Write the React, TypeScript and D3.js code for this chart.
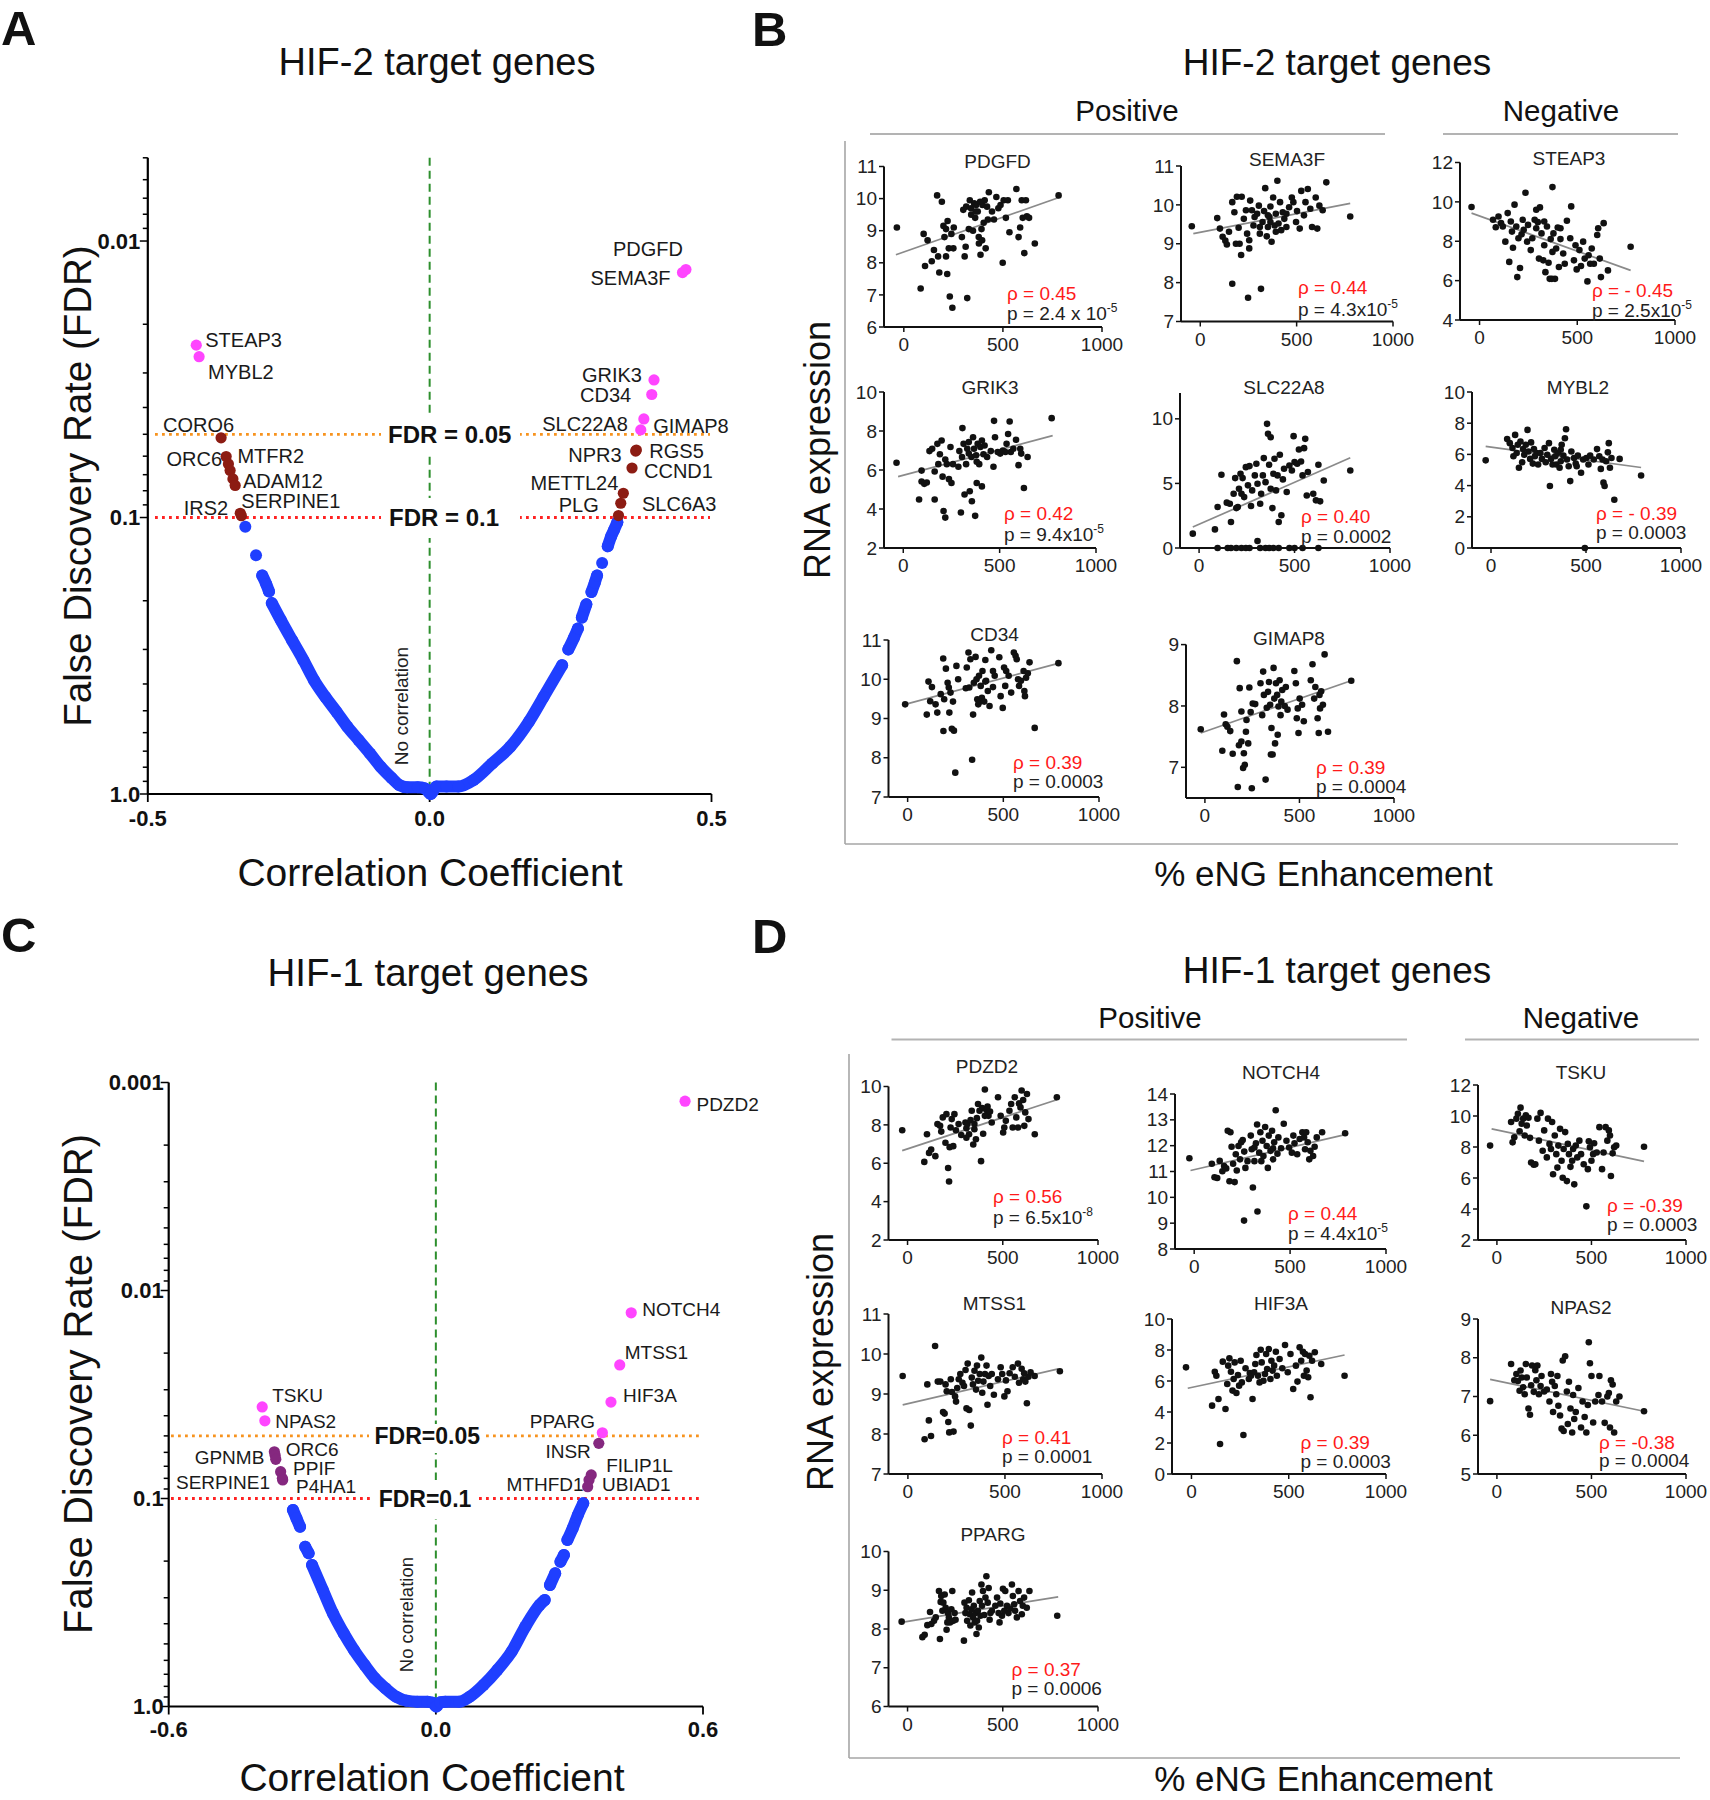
import React from "react";
import * as d3 from "d3";

const FONT = "'Liberation Sans', Arial, Helvetica, sans-serif";
const BLUE = "#1f3fff";
const PINK = "#ff45ff";
const DARKRED = "#8c1c13";
const PURPLE = "#85287f";

// ================= Panel A data : HIF-2 volcano =================
const A_BLUE_SEGMENTS: [number, number][][] = [
  [[-0.327, 0.108]],
  [[-0.308, 0.137]],
  [[-0.297, 0.162], [-0.29, 0.174], [-0.285, 0.185]],
  [[-0.28, 0.204], [-0.264, 0.235], [-0.244, 0.278], [-0.224, 0.328], [-0.205, 0.388], [-0.185, 0.446], [-0.165, 0.505], [-0.146, 0.571], [-0.126, 0.638], [-0.106, 0.713], [-0.087, 0.797], [-0.067, 0.877], [-0.054, 0.928], [-0.04, 0.946], [-0.021, 0.946], [-0.008, 0.955], [0.002, 1.0], [0.012, 0.94], [0.03, 0.94], [0.051, 0.94], [0.078, 0.89], [0.111, 0.775], [0.143, 0.675], [0.176, 0.548], [0.202, 0.446], [0.235, 0.342]],
  [[0.246, 0.3], [0.256, 0.272], [0.263, 0.252]],
  [[0.27, 0.23], [0.278, 0.206]],
  [[0.287, 0.186], [0.293, 0.172], [0.297, 0.162]],
  [[0.306, 0.146]],
  [[0.316, 0.127], [0.322, 0.117], [0.327, 0.111], [0.333, 0.104]],
];
const A_PINK = [
  { g: "STEAP3", r: -0.414, fdr: 0.0238 },
  { g: "MYBL2", r: -0.409, fdr: 0.0262 },
  { g: "PDGFD", r: 0.4546, fdr: 0.01268 },
  { g: "SEMA3F", r: 0.4486, fdr: 0.013 },
  { g: "GRIK3", r: 0.398, fdr: 0.0318 },
  { g: "CD34", r: 0.394, fdr: 0.0359 },
  { g: "SLC22A8", r: 0.38, fdr: 0.044 },
  { g: "GIMAP8", r: 0.3745, fdr: 0.0482 },
];
const A_DARK = [
  { g: "CORO6", r: -0.37, fdr: 0.0515 },
  { g: "ORC6", r: -0.361, fdr: 0.0602 },
  { g: "MTFR2", r: -0.357, fdr: 0.064 },
  { g: "", r: -0.354, fdr: 0.0676 },
  { g: "ADAM12", r: -0.349, fdr: 0.0725 },
  { g: "", r: -0.345, fdr: 0.0766 },
  { g: "IRS2", r: -0.336, fdr: 0.0965 },
  { g: "SERPINE1", r: -0.334, fdr: 0.0985 },
  { g: "NPR3", r: 0.3655, fdr: 0.0575 },
  { g: "RGS5", r: 0.3667, fdr: 0.057 },
  { g: "CCND1", r: 0.359, fdr: 0.0662 },
  { g: "METTL24", r: 0.3436, fdr: 0.0817 },
  { g: "PLG", r: 0.339, fdr: 0.0888 },
  { g: "SLC6A3", r: 0.335, fdr: 0.0984 },
];
// label placement (pixel offsets from the point)
const A_LABELS = [
  { g: "STEAP3", dx: 9, dy: -5, a: "start" },
  { g: "MYBL2", dx: 9, dy: 15, a: "start" },
  { g: "CORO6", dx: 13, dy: -13, a: "end" },
  { g: "ORC6", dx: -4, dy: 2, a: "end" },
  { g: "MTFR2", dx: 9, dy: -8, a: "start" },
  { g: "ADAM12", dx: 10, dy: 2, a: "start" },
  { g: "SERPINE1", dx: 0, dy: -15, a: "start" },
  { g: "IRS2", dx: -12, dy: -5, a: "end" },
  { g: "NPR3", dx: -14, dy: 3.5, a: "end" },
  { g: "RGS5", dx: 13, dy: 0.5, a: "start" },
  { g: "CCND1", dx: 12, dy: 3, a: "start" },
  { g: "METTL24", dx: -5, dy: -10, a: "end" },
  { g: "PLG", dx: -22, dy: 2, a: "end" },
  { g: "SLC6A3", dx: 23.5, dy: -12, a: "start" },
  { g: "PDGFD", dx: -3, dy: -21, a: "end" },
  { g: "SEMA3F", dx: -12, dy: 5.5, a: "end" },
  { g: "GRIK3", dx: -12, dy: -5, a: "end" },
  { g: "CD34", dx: -20.6, dy: 0.5, a: "end" },
  { g: "SLC22A8", dx: -16, dy: 4.7, a: "end" },
  { g: "GIMAP8", dx: 12.4, dy: -4, a: "start" },
];

// ================= Panel C data : HIF-1 volcano =================
const C_BLUE_SEGMENTS: [number, number][][] = [
  [[-0.321, 0.1135], [-0.313, 0.1245], [-0.305, 0.1367]],
  [[-0.2935, 0.1706], [-0.2857, 0.1834]],
  [[-0.278, 0.209], [-0.254, 0.275], [-0.231, 0.357], [-0.207, 0.445], [-0.184, 0.535], [-0.16, 0.632], [-0.137, 0.732], [-0.113, 0.818], [-0.089, 0.898], [-0.066, 0.938], [-0.042, 0.948], [-0.019, 0.948], [-0.007, 0.96], [0.001, 1.0], [0.01, 0.955], [0.021, 0.948], [0.052, 0.948], [0.076, 0.898], [0.107, 0.788], [0.138, 0.668], [0.17, 0.545], [0.201, 0.413], [0.233, 0.325], [0.2445, 0.3076]],
  [[0.2563, 0.2606], [0.268, 0.229]],
  [[0.2798, 0.2014], [0.2877, 0.187]],
  [[0.2955, 0.1582], [0.3074, 0.139], [0.319, 0.12], [0.331, 0.1054]],
];
const C_PINK = [
  { g: "TSKU", r: -0.39, fdr: 0.0363 },
  { g: "NPAS2", r: -0.384, fdr: 0.0423 },
  { g: "PDZD2", r: 0.5597, fdr: 0.00123 },
  { g: "NOTCH4", r: 0.4388, fdr: 0.0128 },
  { g: "MTSS1", r: 0.413, fdr: 0.0228 },
  { g: "HIF3A", r: 0.3933, fdr: 0.0344 },
  { g: "PPARG", r: 0.374, fdr: 0.0483 },
];
const C_DARK = [
  { g: "GPNMB", r: -0.3627, fdr: 0.0596 },
  { g: "", r: -0.361, fdr: 0.062 },
  { g: "ORC6", r: -0.3595, fdr: 0.0648 },
  { g: "PPIF", r: -0.3486, fdr: 0.0743 },
  { g: "SERPINE1", r: -0.3447, fdr: 0.08 },
  { g: "P4HA1", r: -0.344, fdr: 0.0815 },
  { g: "INSR", r: 0.366, fdr: 0.0543 },
  { g: "FILIP1L", r: 0.349, fdr: 0.077 },
  { g: "UBIAD1", r: 0.344, fdr: 0.0815 },
  { g: "MTHFD1", r: 0.341, fdr: 0.0878 },
];
const C_LABELS = [
  { g: "TSKU", dx: 10, dy: -12, a: "start" },
  { g: "NPAS2", dx: 10.4, dy: 0, a: "start" },
  { g: "GPNMB", dx: -10, dy: 5, a: "end" },
  { g: "ORC6", dx: 10, dy: -10, a: "start" },
  { g: "PPIF", dx: 12.4, dy: -4, a: "start" },
  { g: "SERPINE1", dx: -12.4, dy: 4.2, a: "end" },
  { g: "P4HA1", dx: 13.3, dy: 6.6, a: "start" },
  { g: "PDZD2", dx: 11.4, dy: 3, a: "start" },
  { g: "NOTCH4", dx: 11, dy: -4, a: "start" },
  { g: "MTSS1", dx: 5, dy: -13, a: "start" },
  { g: "HIF3A", dx: 12, dy: -7, a: "start" },
  { g: "PPARG", dx: -7.4, dy: -12, a: "end" },
  { g: "INSR", dx: -8, dy: 8, a: "end" },
  { g: "FILIP1L", dx: 15, dy: -10, a: "start" },
  { g: "UBIAD1", dx: 13, dy: 4, a: "start" },
  { g: "MTHFD1", dx: -4, dy: -3, a: "end" },
];

const FDR_LEVELS = [0.05, 0.1];
const A_Y_TICKS = [0.01, 0.1, 1];
const A_Y_TICK_LABELS = ["0.01", "0.1", "1.0"];
const A_X_TICKS = [-0.5, 0, 0.5];
const A_X_TICK_LABELS = ["-0.5", "0.0", "0.5"];
const C_Y_TICKS = [0.001, 0.01, 0.1, 1];
const C_Y_TICK_LABELS = ["0.001", "0.01", "0.1", "1.0"];
const C_X_TICKS = [-0.6, 0, 0.6];
const C_X_TICK_LABELS = ["-0.6", "0.0", "0.6"];

// ================= Scatter data (x = % eNG enhancement, y = RNA expression) =================
const PDGFD_PTS = [[-35,9.1],[85,7.2],[100,8.9],[107,7.9],[120,8.7],[141,8.05],[152,8.4],[168,10.1],[173,8.2],[179,7.7],[192,9.9],[200,9.15],[205,8.8],[213,9.05],[213,8.2],[219,7.65],[221,9.3],[227,8.45],[232,6.95],[240,8.9],[245,6.6],[250,8.45],[293,8.8],[307,8.2],[312,8.5],[320,6.9],[315,9.75],[333,9.95],[328,9.05],[339,9.7],[349,9.0],[355,9.85],[360,9.4],[365,9.8],[373,9.6],[378,8.8],[379,8.6],[387,8.25],[392,9.05],[397,9.8],[403,9.25],[408,9.95],[413,8.45],[424,9.35],[429,10.2],[445,9.6],[467,10.05],[477,9.7],[488,9.8],[499,8.0],[504,9.95],[515,9.4],[525,9.95],[533,8.95],[568,10.3],[579,8.8],[587,9.1],[595,9.95],[600,9.4],[608,8.3],[616,9.95],[621,9.45],[632,9.4],[661,8.6],[781,10.1],[340,9.5],[362,9.6],[385,9.9],[420,9.75],[455,9.35],[395,8.7],[300,9.65],[252,9.1]];
const SEMA3F_PTS = [[-44,9.45],[88,9.66],[102,9.39],[116,9.18],[130,9.08],[138,8.98],[149,9.31],[166,7.97],[166,10.07],[177,9.81],[185,9.0],[190,10.21],[199,9.41],[204,9.0],[212,8.71],[215,10.21],[226,9.64],[237,9.86],[243,9.26],[248,7.61],[254,8.88],[259,10.11],[276,9.47],[282,9.69],[295,9.77],[304,9.98],[309,9.26],[315,7.84],[323,9.56],[331,9.84],[337,10.43],[345,9.19],[351,9.43],[359,9.69],[364,9.96],[370,9.05],[378,10.19],[386,9.47],[392,9.77],[400,10.62],[406,9.52],[414,10.07],[420,9.35],[428,9.81],[436,9.64],[447,9.43],[461,9.94],[475,10.19],[483,10.07],[497,9.56],[502,9.84],[516,9.39],[524,10.36],[538,9.73],[546,10.07],[558,10.41],[571,9.9],[580,9.43],[599,10.19],[607,9.39],[618,9.98],[635,9.86],[654,10.58],[778,9.7],[309,9.43],[351,9.73],[447,9.77],[392,9.31],[364,9.56],[254,9.09],[268,9.86]];
const STEAP3_PTS = [[-41,9.74],[69,9.09],[83,8.71],[97,9.26],[110,8.92],[119,8.75],[132,7.98],[144,9.43],[152,6.95],[160,9.0],[166,8.49],[171,7.67],[179,9.86],[188,8.75],[193,6.18],[199,8.15],[207,6.64],[215,8.35],[221,9.09],[226,8.58],[235,10.46],[243,7.98],[248,8.83],[262,7.55],[270,8.15],[282,9.09],[290,9.6],[298,8.97],[304,7.12],[309,9.72],[317,8.4],[326,7.03],[331,7.8],[337,6.43],[345,8.75],[353,6.91],[359,6.09],[364,8.11],[373,10.75],[378,8.4],[386,6.09],[392,7.63],[400,8.7],[406,6.69],[414,8.11],[428,7.38],[436,6.86],[447,9.04],[464,8.15],[469,9.77],[483,7.03],[491,7.8],[497,6.57],[511,7.55],[519,6.74],[530,7.98],[538,7.12],[552,5.96],[558,7.29],[566,6.86],[574,7.63],[585,6.86],[602,8.32],[607,8.66],[615,7.12],[621,6.18],[635,8.92],[657,6.52],[773,7.72],[290,8.66],[373,7.46],[414,8.66],[331,9.0],[370,6.09]];
const GRIK3_PTS = [[-35,6.37],[82,4.49],[95,5.97],[95,5.41],[109,5.29],[122,5.36],[136,6.97],[150,7.09],[163,5.92],[163,4.49],[177,7.34],[182,6.3],[190,6.81],[199,7.51],[204,5.66],[209,3.9],[218,3.56],[218,6.54],[226,6.3],[237,5.53],[245,7.18],[250,5.33],[258,6.3],[286,6.17],[291,6.97],[299,3.82],[305,6.67],[307,8.15],[313,7.34],[318,4.74],[326,6.3],[332,7.09],[340,7.43],[345,4.91],[354,6.67],[356,4.4],[362,7.68],[367,7.09],[373,3.65],[378,6.76],[381,5.33],[386,7.34],[394,6.3],[400,7.18],[408,5.16],[416,6.81],[422,7.26],[435,6.67],[454,6.97],[468,6.17],[471,8.52],[476,7.68],[490,6.92],[503,6.84],[517,7.0],[536,7.34],[544,7.85],[552,8.49],[558,6.92],[571,7.09],[585,7.55],[598,6.25],[607,7.09],[612,6.84],[626,5.08],[645,6.67],[770,8.66],[340,6.84],[408,7.51],[530,6.92],[381,6.42]];
const SLC22A8_PTS = [[-33,1.11],[83,1.44],[97,3.17],[117,5.67],[145,3.51],[161,3.43],[167,2.01],[181,4.2],[189,5.41],[195,3.09],[203,3.17],[209,4.59],[217,5.75],[222,4.2],[228,5.41],[236,3.94],[245,6.26],[256,4.85],[264,6.34],[272,3.25],[278,4.46],[292,5.62],[300,6.52],[306,4.97],[320,3.43],[325,4.2],[334,5.62],[339,6.96],[348,5.1],[356,9.61],[361,8.84],[367,6.44],[375,4.59],[375,8.58],[384,3.09],[389,5.75],[395,6.91],[403,4.46],[411,5.62],[417,2.01],[423,7.22],[431,2.53],[439,5.31],[445,6.13],[459,4.33],[473,6.39],[486,6.0],[495,8.66],[500,6.65],[514,6.52],[523,7.63],[534,6.7],[542,5.62],[550,7.73],[556,8.45],[564,4.07],[570,5.88],[598,4.2],[612,3.69],[625,6.44],[634,3.61],[653,5.23],[792,6.0],[97,0],[150,0],[167,0],[195,0],[222,0],[245,0],[264,0],[306,0.54],[320,0],[348,0],[367,0],[389,0],[417,0],[473,0],[542,0],[625,0],[500,0]];
const MYBL2_PTS = [[-28,5.62],[85,6.98],[99,6.72],[113,6.41],[118,5.88],[127,7.25],[135,6.09],[141,6.62],[147,5.14],[155,6.83],[164,5.5],[169,6.34],[175,5.98],[183,6.62],[192,7.57],[197,6.19],[206,5.71],[211,6.77],[220,5.41],[226,6.34],[231,5.88],[240,6.09],[248,5.35],[268,5.71],[282,6.41],[288,5.5],[296,5.98],[305,6.72],[310,3.97],[316,5.71],[324,5.35],[333,6.3],[338,5.88],[344,5.35],[352,6.09],[361,5.14],[367,5.56],[372,6.62],[381,5.92],[389,7.04],[395,7.61],[400,5.67],[409,5.24],[417,4.29],[423,6.19],[437,5.77],[446,5.41],[457,5.92],[474,4.82],[485,5.67],[494,0],[502,5.77],[513,5.35],[522,5.92],[541,5.67],[558,6.34],[570,5.88],[578,5.07],[587,5.67],[592,4.19],[598,3.97],[606,5.56],[615,6.13],[620,6.72],[626,5.14],[634,5.77],[649,3.09],[677,5.71],[790,4.65],[260,6.09],[367,6.3],[451,5.24]];
const CD34_PTS = [[-13,9.36],[100,9.1],[109,9.94],[118,9.44],[127,9.8],[146,9.36],[155,9.15],[173,9.62],[186,10.53],[187,8.68],[191,9.49],[200,10.27],[209,9.91],[215,9.79],[218,9.15],[224,9.66],[231,8.74],[237,9.43],[242,8.69],[249,7.62],[255,10.34],[264,10.0],[304,9.77],[309,10.3],[318,10.68],[322,9.79],[328,10.51],[337,7.95],[342,9.1],[346,9.91],[355,10.57],[360,10.0],[364,9.49],[369,9.36],[373,10.09],[379,9.43],[382,9.83],[388,9.53],[391,10.21],[400,9.43],[406,10.49],[410,9.96],[419,9.7],[428,9.32],[437,10.74],[446,9.8],[455,10.09],[479,10.56],[486,9.57],[497,9.27],[504,10.3],[510,9.83],[515,10.21],[528,10.09],[541,9.66],[555,10.68],[564,10.6],[570,10.51],[577,10.0],[582,9.83],[592,9.96],[606,10.21],[610,9.7],[613,9.57],[619,10.04],[628,10.15],[637,10.43],[664,8.76],[788,10.41],[406,9.94],[446,10.21]];
const GIMAP8_PTS = [[-22,7.62],[92,7.27],[101,7.86],[110,7.7],[119,7.66],[134,7.59],[147,7.22],[169,8.73],[174,6.68],[180,7.36],[184,8.29],[193,7.42],[193,7.91],[202,6.99],[206,7.23],[211,7.04],[217,7.58],[220,7.77],[229,7.39],[235,8.3],[242,7.9],[248,6.66],[253,8.04],[266,8.03],[294,8.37],[303,7.85],[308,8.56],[312,8.18],[321,6.8],[327,7.97],[334,8.23],[339,8.39],[345,8.02],[349,7.21],[352,7.64],[358,7.21],[363,8.62],[367,8.12],[371,7.39],[376,8.37],[382,8.18],[385,7.53],[389,7.99],[395,8.42],[400,7.85],[404,8.07],[409,8.26],[422,8.0],[428,8.31],[437,7.94],[473,8.57],[481,8.37],[486,7.8],[491,7.96],[495,7.56],[501,8.12],[514,8.02],[523,7.75],[560,8.42],[569,8.68],[578,8.12],[584,8.31],[596,7.8],[602,7.56],[606,8.18],[609,7.96],[615,8.24],[624,8.02],[633,8.84],[651,7.58],[774,8.41]];
const PDZD2_PTS = [[-28,7.72],[88,6.07],[102,7.51],[113,6.54],[124,6.72],[146,6.37],[157,8.04],[171,7.95],[177,7.65],[185,8.39],[199,7.07],[204,8.56],[213,5.75],[218,5.05],[221,6.84],[226,7.86],[232,8.3],[240,6.89],[246,8.56],[254,7.72],[268,8.04],[282,7.47],[304,8.12],[309,7.82],[315,8.04],[323,7.51],[331,8.25],[337,8.74],[345,6.98],[351,7.77],[359,7.25],[364,8.35],[370,9.09],[378,8.74],[386,6.11],[392,8.88],[397,7.54],[406,9.84],[414,8.77],[420,8.95],[425,8.47],[433,8.7],[442,8.12],[475,9.44],[489,8.47],[502,7.6],[508,7.86],[516,8.21],[535,8.74],[552,7.86],[563,9.44],[571,8.39],[580,7.86],[585,9.12],[593,8.91],[599,9.79],[607,9.3],[613,7.95],[618,8.65],[627,9.61],[635,8.3],[668,7.51],[784,9.44],[351,8.04],[406,8.47],[544,9.09],[309,7.33]];
const NOTCH4_PTS = [[-25,11.51],[92,11.3],[106,10.78],[120,10.75],[133,11.41],[147,11.01],[156,11.21],[167,11.12],[175,12.58],[184,10.62],[189,12.52],[195,11.96],[203,11.3],[211,10.59],[217,11.67],[222,11.04],[231,11.99],[239,11.47],[245,12.13],[253,12.22],[260,9.1],[261,11.77],[267,11.14],[278,11.4],[295,12.39],[300,11.86],[306,10.38],[314,11.4],[322,12.09],[328,12.82],[330,9.45],[339,11.73],[345,12.52],[350,11.4],[356,12.19],[361,11.6],[370,12.72],[378,11.99],[384,11.14],[389,12.39],[398,11.8],[406,12.58],[411,11.47],[417,12.13],[425,13.37],[434,11.69],[439,12.32],[453,11.9],[467,12.85],[481,12.19],[495,11.93],[509,11.73],[517,12.39],[523,12.09],[537,11.67],[550,12.26],[564,12.52],[573,12.32],[578,11.86],[584,12.52],[592,12.13],[600,11.47],[606,11.8],[620,11.6],[628,11.96],[639,12.32],[667,12.52],[787,12.48],[314,11.93],[411,11.9]];
const TSKU_PTS = [[-36,8.09],[75,9.61],[83,8.3],[92,8.63],[103,9.83],[111,10.15],[120,9.02],[125,10.54],[131,9.5],[139,9.83],[147,8.74],[153,10.04],[158,9.39],[167,9.89],[175,8.59],[181,7.0],[195,6.85],[203,6.89],[214,9.83],[222,8.41],[231,10.2],[242,7.76],[250,9.07],[264,7.33],[270,9.83],[278,8.2],[286,7.87],[292,9.61],[297,6.24],[306,8.74],[314,7.54],[320,6.67],[325,8.09],[334,9.17],[342,7.11],[348,6.02],[353,7.87],[361,8.96],[370,5.8],[375,8.2],[381,7.54],[389,6.72],[398,7.11],[403,7.87],[409,5.59],[417,8.09],[425,7.33],[436,8.41],[445,7.54],[459,6.89],[473,4.17],[481,6.57],[486,8.37],[492,7.98],[500,7.11],[509,7.54],[514,8.24],[528,7.65],[542,9.28],[556,6.57],[564,7.65],[575,9.28],[584,8.41],[592,9.07],[598,8.74],[603,6.13],[612,7.59],[620,7.98],[631,8.09],[778,8.02]];
const MTSS1_PTS = [[-27,9.45],[86,7.87],[100,9.24],[108,8.34],[119,7.95],[140,10.2],[154,9.31],[167,9.31],[181,8.55],[189,8.51],[194,9.24],[200,9.07],[208,8.3],[213,8.04],[221,9.37],[227,9.05],[235,8.06],[243,8.94],[248,8.81],[254,9.15],[262,9.37],[270,9.5],[281,9.28],[289,9.2],[297,9.6],[302,8.64],[308,9.76],[316,8.6],[324,8.21],[329,9.41],[335,9.24],[343,9.58],[351,9.11],[356,9.71],[362,9.33],[370,9.5],[378,9.91],[383,9.03],[389,9.31],[397,9.5],[405,9.71],[410,8.73],[416,9.45],[424,9.2],[432,9.5],[443,8.98],[464,9.37],[478,9.67],[486,9.5],[497,8.94],[505,9.34],[513,9.07],[524,9.52],[540,9.67],[551,9.43],[567,9.76],[572,9.28],[586,9.63],[594,9.37],[599,9.52],[605,9.31],[613,8.77],[621,9.43],[632,9.54],[653,9.45],[783,9.57]];
const HIF3A_PTS = [[-28,6.88],[106,4.41],[120,6.6],[128,6.34],[139,4.84],[147,1.94],[161,7.25],[175,4.19],[184,5.81],[189,6.99],[195,7.46],[203,6.6],[211,5.38],[217,6.13],[222,7.2],[231,5.23],[239,6.39],[245,5.7],[253,7.31],[259,5.91],[267,2.52],[278,6.82],[295,6.13],[300,6.52],[306,6.34],[314,4.84],[322,6.56],[328,7.1],[334,7.68],[342,6.34],[350,5.91],[356,8.02],[361,7.2],[370,6.02],[378,6.45],[384,7.74],[389,6.77],[398,8.06],[406,6.13],[411,7.31],[417,6.67],[425,6.99],[434,7.89],[439,6.34],[453,7.42],[467,6.82],[481,8.32],[495,6.56],[509,7.74],[523,5.48],[537,6.99],[545,5.96],[556,8.17],[564,7.31],[573,7.89],[578,6.34],[584,7.74],[592,6.67],[600,6.24],[606,7.63],[612,4.95],[620,7.31],[634,7.85],[667,7.1],[787,6.34]];
const NPAS2_PTS = [[-36,6.88],[75,7.84],[92,7.42],[103,7.58],[111,7.4],[120,7.15],[125,7.67],[131,7.49],[139,7.24],[147,7.06],[153,7.84],[158,7.49],[167,6.69],[175,6.53],[181,7.29],[186,7.8],[195,7.12],[203,7.68],[209,7.42],[214,7.8],[222,7.06],[231,7.27],[236,7.53],[250,7.13],[264,7.18],[278,6.87],[286,7.58],[292,7.38],[297,6.6],[306,7.27],[314,7.06],[320,7.53],[325,6.76],[334,6.51],[342,6.17],[348,7.93],[353,6.11],[361,8.04],[370,7.13],[375,6.29],[381,7.38],[389,6.69],[398,6.07],[403,7.04],[409,6.42],[417,6.6],[431,7.22],[445,6.2],[453,6.87],[464,6.47],[473,6.07],[481,6.78],[486,8.4],[492,7.86],[500,7.53],[509,6.33],[520,6.87],[537,7.04],[542,7.53],[556,6.87],[570,6.32],[584,7.0],[592,7.09],[598,6.2],[603,7.42],[612,7.31],[620,6.07],[631,6.87],[648,7.0],[778,6.62]];
const PPARG_PTS = [[-31,8.19],[78,7.79],[90,7.85],[104,8.1],[118,8.44],[125,8.13],[139,8.21],[148,8.3],[165,8.98],[170,7.74],[174,8.7],[177,8.85],[183,8.47],[188,8.68],[195,8.89],[200,8.55],[205,7.98],[209,8.17],[212,8.41],[217,8.3],[223,8.17],[230,8.51],[235,8.98],[240,8.21],[247,8.41],[252,8.24],[296,7.7],[299,8.68],[304,8.41],[310,8.55],[313,8.21],[322,8.74],[327,8.38],[330,8.09],[336,8.51],[339,8.94],[344,8.3],[348,8.6],[353,8.17],[357,8.41],[362,7.87],[365,8.21],[369,8.47],[374,8.04],[379,8.72],[383,8.34],[388,9.15],[391,8.6],[396,8.98],[403,8.36],[409,8.81],[414,9.36],[421,8.68],[426,9.06],[431,8.24],[435,8.41],[443,8.47],[461,8.6],[470,8.81],[478,8.41],[483,8.17],[487,8.66],[496,8.34],[501,9.04],[508,8.47],[513,8.98],[522,8.6],[530,8.41],[539,8.53],[548,9.15],[553,8.85],[560,8.64],[565,8.47],[574,8.3],[583,8.98],[591,8.72],[600,8.38],[605,8.6],[612,8.81],[626,8.55],[640,8.98],[786,8.34]];

// fitted regression line end points [x, y]
const FITS: Record<string, number[][]> = {
  PDGFD: [[-40, 8.25], [790, 10.05]],
  SEMA3F: [[-36, 9.26], [778, 10.04]],
  STEAP3: [[-41, 9.43], [773, 6.52]],
  GRIK3: [[-27, 5.66], [775, 7.76]],
  SLC22A8: [[-33, 1.62], [792, 6.98]],
  MYBL2: [[-28, 6.51], [790, 5.16]],
  CD34: [[-13, 9.36], [792, 10.41]],
  GIMAP8: [[-22, 7.56], [780, 8.42]],
  PDZD2: [[-28, 6.66], [784, 9.31]],
  NOTCH4: [[-19, 11.04], [787, 12.43]],
  TSKU: [[-28, 9.17], [778, 7.07]],
  MTSS1: [[-27, 8.73], [775, 9.63]],
  HIF3A: [[-19, 5.53], [787, 7.68]],
  NPAS2: [[-36, 7.44], [778, 6.62]],
  PPARG: [[-31, 8.17], [791, 8.83]],
};
const STATS: Record<string, { rho: string; p: string; exp?: string }> = {
  PDGFD: { rho: "ρ = 0.45", p: "p = 2.4 x 10", exp: "-5" },
  SEMA3F: { rho: "ρ = 0.44", p: "p = 4.3x10", exp: "-5" },
  STEAP3: { rho: "ρ = - 0.45", p: "p = 2.5x10", exp: "-5" },
  GRIK3: { rho: "ρ = 0.42", p: "p = 9.4x10", exp: "-5" },
  SLC22A8: { rho: "ρ = 0.40", p: "p = 0.0002" },
  MYBL2: { rho: "ρ = - 0.39", p: "p = 0.0003" },
  CD34: { rho: "ρ = 0.39", p: "p = 0.0003" },
  GIMAP8: { rho: "ρ = 0.39", p: "p = 0.0004" },
  PDZD2: { rho: "ρ = 0.56", p: "p = 6.5x10", exp: "-8" },
  NOTCH4: { rho: "ρ = 0.44", p: "p = 4.4x10", exp: "-5" },
  TSKU: { rho: "ρ = -0.39", p: "p = 0.0003" },
  MTSS1: { rho: "ρ = 0.41", p: "p = 0.0001" },
  HIF3A: { rho: "ρ = 0.39", p: "p = 0.0003" },
  NPAS2: { rho: "ρ = -0.38", p: "p = 0.0004" },
  PPARG: { rho: "ρ = 0.37", p: "p = 0.0006" },
};
const Y_DOMAINS: Record<string, number[]> = {
  PDGFD: [6, 11], SEMA3F: [7, 11], STEAP3: [4, 12], GRIK3: [2, 10], SLC22A8: [0, 12], MYBL2: [0, 10],
  CD34: [7, 11], GIMAP8: [6.5, 9], PDZD2: [2, 10], NOTCH4: [8, 14], TSKU: [2, 12], MTSS1: [7, 11],
  HIF3A: [0, 10], NPAS2: [5, 9], PPARG: [6, 10],
};
const Y_TICKS: Record<string, number[]> = {
  PDGFD: [6, 7, 8, 9, 10, 11], SEMA3F: [7, 8, 9, 10, 11], STEAP3: [4, 6, 8, 10, 12], GRIK3: [2, 4, 6, 8, 10],
  SLC22A8: [0, 5, 10], MYBL2: [0, 2, 4, 6, 8, 10], CD34: [7, 8, 9, 10, 11], GIMAP8: [7, 8, 9],
  PDZD2: [2, 4, 6, 8, 10], NOTCH4: [8, 9, 10, 11, 12, 13, 14], TSKU: [2, 4, 6, 8, 10, 12], MTSS1: [7, 8, 9, 10, 11],
  HIF3A: [0, 2, 4, 6, 8, 10], NPAS2: [5, 6, 7, 8, 9], PPARG: [6, 7, 8, 9, 10],
};
const X_DOMAIN = [-100, 1000];
const X_TICKS = [0, 500, 1000];
const POINTS: Record<string, number[][]> = {
  PDGFD: PDGFD_PTS, SEMA3F: SEMA3F_PTS, STEAP3: STEAP3_PTS, GRIK3: GRIK3_PTS, SLC22A8: SLC22A8_PTS, MYBL2: MYBL2_PTS,
  CD34: CD34_PTS, GIMAP8: GIMAP8_PTS, PDZD2: PDZD2_PTS, NOTCH4: NOTCH4_PTS, TSKU: TSKU_PTS, MTSS1: MTSS1_PTS,
  HIF3A: HIF3A_PTS, NPAS2: NPAS2_PTS, PPARG: PPARG_PTS,
};

// ================= Layout =================
const SCATTER_LAYOUT = [
  { g: "PDGFD", xL: 884, xR: 1102, yT: 166.5, yB: 327, tx: 997.5, ty: 167.5, ax: 1007, ayR: 299.5, ayP: 319.5 },
  { g: "SEMA3F", xL: 1181, xR: 1393, yT: 166, yB: 321.5, tx: 1287, ty: 166, ax: 1298, ayR: 294, ayP: 316 },
  { g: "STEAP3", xL: 1460, xR: 1675, yT: 162.5, yB: 320, tx: 1569, ty: 165, ax: 1592, ayR: 297, ayP: 317 },
  { g: "GRIK3", xL: 884, xR: 1096, yT: 392, yB: 548, tx: 990, ty: 394, ax: 1004, ayR: 519.5, ayP: 541 },
  { g: "SLC22A8", xL: 1180, xR: 1390, yT: 393, yB: 548, tx: 1284, ty: 394, ax: 1301, ayR: 522.5, ayP: 542.5 },
  { g: "MYBL2", xL: 1472, xR: 1681, yT: 392, yB: 548, tx: 1578, ty: 394, ax: 1596, ayR: 519.5, ayP: 539 },
  { g: "CD34", xL: 888.5, xR: 1099, yT: 640, yB: 797, tx: 994.5, ty: 641, ax: 1013, ayR: 768.5, ayP: 787.5 },
  { g: "GIMAP8", xL: 1186, xR: 1394, yT: 644.6, yB: 798, tx: 1289, ty: 645, ax: 1316, ayR: 774, ayP: 793 },
  { g: "PDZD2", xL: 888.5, xR: 1098, yT: 1086.5, yB: 1240, tx: 987, ty: 1073, ax: 993, ayR: 1202.5, ayP: 1223.5 },
  { g: "NOTCH4", xL: 1175, xR: 1386, yT: 1094, yB: 1249, tx: 1281, ty: 1079, ax: 1288, ayR: 1219.5, ayP: 1240 },
  { g: "TSKU", xL: 1478, xR: 1686, yT: 1085, yB: 1240, tx: 1581, ty: 1079, ax: 1607, ayR: 1212, ayP: 1231 },
  { g: "MTSS1", xL: 888.5, xR: 1102, yT: 1314, yB: 1474, tx: 994.5, ty: 1310, ax: 1002, ayR: 1443.5, ayP: 1462.5 },
  { g: "HIF3A", xL: 1172, xR: 1386, yT: 1319, yB: 1474, tx: 1281, ty: 1310, ax: 1300.5, ayR: 1449, ayP: 1467.5 },
  { g: "NPAS2", xL: 1478, xR: 1686, yT: 1319, yB: 1474, tx: 1581, ty: 1314, ax: 1599, ayR: 1449, ayP: 1466.5 },
  { g: "PPARG", xL: 888.5, xR: 1098, yT: 1551.5, yB: 1706.5, tx: 993, ty: 1541, ax: 1011.5, ayR: 1676, ayP: 1694.5 },
];

const A_CFG = {
  xL: 147.8, xR: 711.5, yT: 157.8, yB: 794, xDomain: [-0.5, 0.5], yDomain: [0.005, 1],
  yTicks: A_Y_TICKS, yTickLabels: A_Y_TICK_LABELS, xTicks: A_X_TICKS, xTickLabels: A_X_TICK_LABELS,
  yLabGap: 7.5, xLabY: 826, blue: A_BLUE_SEGMENTS, pink: A_PINK, dark: A_DARK, darkColor: DARKRED,
  labels: A_LABELS, labelSize: 20,
  fdrText: ["FDR = 0.05", "FDR = 0.1"], fdrTextX: [388, 389], fdrAnchor: "start", fdrSize: 24,
  boxes: [[381, 415, 139, 38], [381, 498, 139, 40]],
  leftEnd: 155, rightEnd: 710,
  noCorr: [401.6, 706, 19],
};
const C_CFG = {
  xL: 168.7, xR: 703, yT: 1082.5, yB: 1706.5, xDomain: [-0.6, 0.6], yDomain: [0.001, 1],
  yTicks: C_Y_TICKS, yTickLabels: C_Y_TICK_LABELS, xTicks: C_X_TICKS, xTickLabels: C_X_TICK_LABELS,
  yLabGap: 5, xLabY: 1737, blue: C_BLUE_SEGMENTS, pink: C_PINK, dark: C_DARK, darkColor: PURPLE,
  labels: C_LABELS, labelSize: 19,
  fdrText: ["FDR=0.05", "FDR=0.1"], fdrTextX: [427.3, 425], fdrAnchor: "middle", fdrSize: 23,
  boxes: [[369, 1424, 117, 29], [374, 1480, 105, 39]],
  leftEnd: 171, rightEnd: 703,
  noCorr: [407, 1614.6, 18.5],
};

function Volcano({ c }: { c: any }) {
  const x = d3.scaleLinear().domain(c.xDomain).range([c.xL, c.xR]);
  const y = d3.scaleLog().domain(c.yDomain).range([c.yT, c.yB]);
  const line = d3
    .line<number[]>()
    .x((d) => x(d[0]))
    .y((d) => y(d[1]))
    .curve(d3.curveMonotoneX);
  const allTicks = y.ticks();
  const isMajor = (t: number) => c.yTicks.some((m: number) => Math.abs(m - t) / m < 1e-6);
  const pts = new Map<string, any>();
  [...c.pink, ...c.dark].forEach((p: any) => p.g && pts.set(p.g, p));
  const x0 = x(0);
  return (
    <g>
      <line x1={x0} x2={x0} y1={c.yT} y2={c.yB} stroke="#2d8f2d" strokeWidth={2} strokeDasharray="8,5" />
      {FDR_LEVELS.map((f, i) => (
        <line key={f} x1={c.leftEnd} x2={c.rightEnd} y1={y(f)} y2={y(f)} stroke={i === 0 ? "#f7931e" : "#ff2222"} strokeWidth={2.8} strokeDasharray="2.8,4.2" />
      ))}
      {c.boxes.map((b: number[], i: number) => (
        <rect key={i} x={b[0]} y={b[1]} width={b[2]} height={b[3]} fill="#fff" />
      ))}
      {FDR_LEVELS.map((f, i) => (
        <text key={f} x={c.fdrTextX[i]} y={y(f)} dy="0.36em" textAnchor={c.fdrAnchor} fontWeight="bold" fontSize={c.fdrSize} fill="#111">
          {c.fdrText[i]}
        </text>
      ))}
      <text transform={`translate(${c.noCorr[0]},${c.noCorr[1]}) rotate(-90)`} textAnchor="middle" dy="0.35em" fontSize={c.noCorr[2]} fill="#222">
        No correlation
      </text>
      <line x1={c.xL} x2={c.xL} y1={c.yT} y2={c.yB} stroke="#000" strokeWidth={2.2} />
      {allTicks.map((t: number) => (
        <line key={t} x1={c.xL - (isMajor(t) ? 8 : 5)} x2={c.xL} y1={y(t)} y2={y(t)} stroke="#000" strokeWidth={1.5} />
      ))}
      {c.yTicks.map((t: number, i: number) => (
        <text key={t} x={c.xL - c.yLabGap} y={y(t)} dy="0.36em" textAnchor="end" fontWeight="bold" fontSize={22} fill="#111">
          {c.yTickLabels[i]}
        </text>
      ))}
      <line x1={c.xL} x2={c.xR} y1={c.yB} y2={c.yB} stroke="#000" strokeWidth={2.2} />
      {c.xTicks.map((t: number, i: number) => (
        <g key={t}>
          <line x1={x(t)} x2={x(t)} y1={c.yB} y2={c.yB + 8} stroke="#000" strokeWidth={1.8} />
          <text x={x(t)} y={c.xLabY} textAnchor="middle" fontWeight="bold" fontSize={22} fill="#111">
            {c.xTickLabels[i]}
          </text>
        </g>
      ))}
      {c.blue.map((seg: number[][], i: number) => (
        <g key={i}>
          {seg.length > 1 && <path d={line(seg) || ""} fill="none" stroke={BLUE} strokeWidth={12} strokeLinecap="round" strokeLinejoin="round" />}
          {seg.map((p: number[], j: number) => (
            <circle key={j} cx={x(p[0])} cy={y(p[1])} r={6} fill={BLUE} />
          ))}
        </g>
      ))}
      {c.dark.map((p: any, i: number) => (
        <circle key={"d" + i} cx={x(p.r)} cy={y(p.fdr)} r={5.6} fill={c.darkColor} />
      ))}
      {c.pink.map((p: any, i: number) => (
        <circle key={"p" + i} cx={x(p.r)} cy={y(p.fdr)} r={5.6} fill={PINK} />
      ))}
      {c.labels.map((l: any) => {
        const p = pts.get(l.g);
        return (
          <text key={l.g} x={x(p.r) + l.dx} y={y(p.fdr) + l.dy} dy="0.36em" textAnchor={l.a} fontSize={c.labelSize} fill="#1a1a1a">
            {l.g}
          </text>
        );
      })}
    </g>
  );
}

function Scatter({ L }: { L: any }) {
  const g = L.g;
  const x = d3.scaleLinear().domain(X_DOMAIN).range([L.xL, L.xR]);
  const y = d3.scaleLinear().domain(Y_DOMAINS[g]).range([L.yB, L.yT]);
  const fit = FITS[g];
  const st = STATS[g];
  const fitLine = d3.line<number[]>().x((d) => x(d[0])).y((d) => y(d[1]));
  return (
    <g>
      <text x={L.tx} y={L.ty} textAnchor="middle" fontSize={19} fill="#222">{g}</text>
      <line x1={L.xL} x2={L.xL} y1={L.yT} y2={L.yB} stroke="#111" strokeWidth={2} />
      <line x1={L.xL} x2={L.xR} y1={L.yB} y2={L.yB} stroke="#111" strokeWidth={2} />
      {Y_TICKS[g].map((t) => (
        <g key={t}>
          <line x1={L.xL - 5} x2={L.xL} y1={y(t)} y2={y(t)} stroke="#111" strokeWidth={1.5} />
          <text x={L.xL - 7} y={y(t)} dy="0.35em" textAnchor="end" fontSize={19} fill="#222">{t}</text>
        </g>
      ))}
      {X_TICKS.map((t) => (
        <g key={t}>
          <line x1={x(t)} x2={x(t)} y1={L.yB} y2={L.yB + 5} stroke="#111" strokeWidth={1.5} />
          <text x={x(t)} y={L.yB + 24} textAnchor="middle" fontSize={19} fill="#222">{t}</text>
        </g>
      ))}
      <path d={fitLine(fit) || ""} stroke="#8a8a8a" strokeWidth={1.7} fill="none" />
      {POINTS[g].map((p, i) => (
        <circle key={i} cx={x(p[0])} cy={y(p[1])} r={3.3} fill="#111" />
      ))}
      <text x={L.ax} y={L.ayR} fontSize={19} fill="#ff1a1a">{st.rho}</text>
      <text x={L.ax} y={L.ayP} fontSize={19} fill="#222">
        {st.p}
        {st.exp && (
          <tspan dy={-8} fontSize={12}>
            {st.exp}
          </tspan>
        )}
      </text>
    </g>
  );
}

function Header({ title, ty, pos, neg, lineY, posLine, negLine, frameX, frameTop, frameBottom, frameRight, rnaY, rnaX, engY }: any) {
  return (
    <g>
      <text x={1337} y={ty} textAnchor="middle" fontSize={37} fill="#111">{title}</text>
      <text x={pos[0]} y={pos[1]} textAnchor="middle" fontSize={29.5} fill="#111">Positive</text>
      <text x={neg[0]} y={neg[1]} textAnchor="middle" fontSize={29.5} fill="#111">Negative</text>
      <line x1={posLine[0]} x2={posLine[1]} y1={lineY} y2={lineY} stroke="#b3b3b3" strokeWidth={2} />
      <line x1={negLine[0]} x2={negLine[1]} y1={lineY} y2={lineY} stroke="#b3b3b3" strokeWidth={2} />
      <line x1={frameX} x2={frameX} y1={frameTop} y2={frameBottom} stroke="#a6a6a6" strokeWidth={1.6} />
      <line x1={frameX} x2={frameRight} y1={frameBottom} y2={frameBottom} stroke="#a6a6a6" strokeWidth={1.6} />
      <text transform={`translate(${rnaX},${rnaY}) rotate(-90)`} textAnchor="middle" dy="0.35em" fontSize={36} fill="#111">RNA expression</text>
      <text x={1323.5} y={engY} textAnchor="middle" fontSize={35} fill="#111">% eNG Enhancement</text>
    </g>
  );
}

export default function App() {
  return (
    <svg width={1710} height={1800} style={{ position: "absolute", left: 0, top: 0, background: "#fff" }} fontFamily={FONT}>
      <rect x={0} y={0} width={1710} height={1800} fill="#fff" />
      <text x={1} y={45} fontSize={49} fontWeight="bold" fill="#111">A</text>
      <text x={752} y={46} fontSize={49} fontWeight="bold" fill="#111">B</text>
      <text x={1} y={952} fontSize={49} fontWeight="bold" fill="#111">C</text>
      <text x={752} y={953} fontSize={49} fontWeight="bold" fill="#111">D</text>

      <text x={437} y={75} textAnchor="middle" fontSize={38} fill="#111">HIF-2 target genes</text>
      <text transform="translate(77.6,486) rotate(-90)" textAnchor="middle" dy="0.35em" fontSize={38.5} fill="#111">False Discovery Rate (FDR)</text>
      <text x={430} y={886} textAnchor="middle" fontSize={39} fill="#111">Correlation Coefficient</text>
      <Volcano c={A_CFG} />

      <text x={428} y={986} textAnchor="middle" fontSize={38.5} fill="#111">HIF-1 target genes</text>
      <text transform="translate(77.6,1384) rotate(-90)" textAnchor="middle" dy="0.35em" fontSize={40} fill="#111">False Discovery Rate (FDR)</text>
      <text x={432} y={1791} textAnchor="middle" fontSize={39} fill="#111">Correlation Coefficient</text>
      <Volcano c={C_CFG} />

      <Header title="HIF-2 target genes" ty={75} pos={[1127, 121]} neg={[1561, 121]} lineY={134}
        posLine={[870, 1385]} negLine={[1443, 1678]} frameX={845} frameTop={141} frameBottom={844} frameRight={1678}
        rnaX={817.5} rnaY={450} engY={886} />
      <Header title="HIF-1 target genes" ty={983} pos={[1150, 1028]} neg={[1581, 1028]} lineY={1039.5}
        posLine={[891.5, 1407]} negLine={[1465, 1699]} frameX={849} frameTop={1054} frameBottom={1758} frameRight={1680}
        rnaX={820.6} rnaY={1362} engY={1791} />
      {SCATTER_LAYOUT.map((L) => (
        <Scatter key={L.g} L={L} />
      ))}
    </svg>
  );
}
